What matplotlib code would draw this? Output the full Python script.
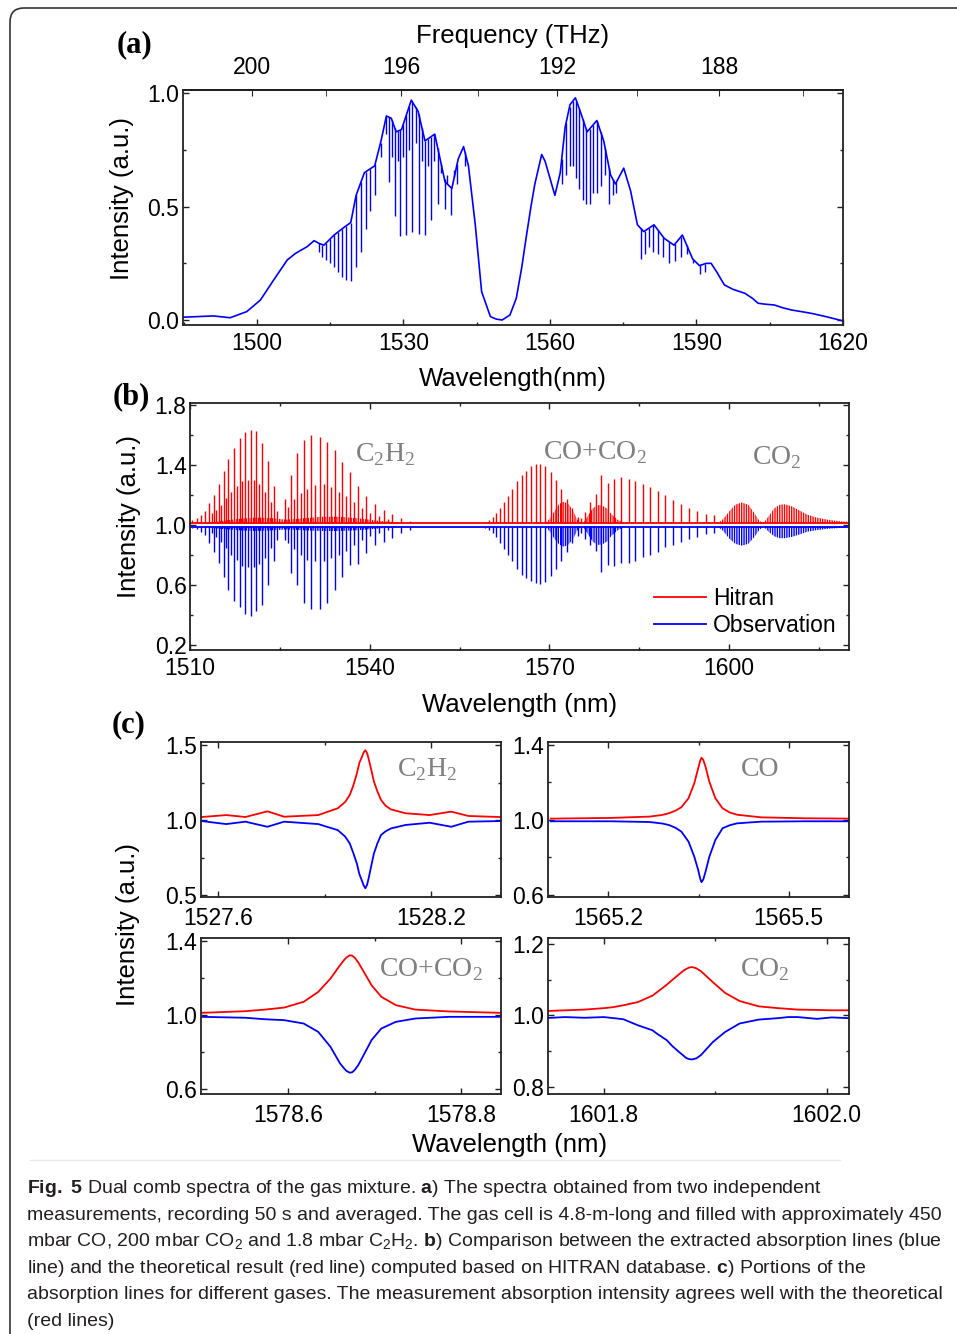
import numpy as np
import matplotlib
matplotlib.use('Agg')
import matplotlib.pyplot as plt
from matplotlib.ticker import FixedLocator, MultipleLocator
from matplotlib.patches import FancyBboxPatch

plt.rcParams['font.family'] = ['Liberation Sans', 'DejaVu Sans']
plt.rcParams['mathtext.fontset'] = 'custom'
plt.rcParams['mathtext.rm'] = 'Liberation Serif'
plt.rcParams['mathtext.sf'] = 'Liberation Sans'
plt.rcParams['mathtext.bf'] = 'Liberation Sans:bold'
plt.rcParams['hatch.linewidth'] = 1.0

# ---------------- (a) spectrum: envelope + absorption dips ----------------
a_wl = [1484.5, 1491.1, 1494.5, 1497.9, 1500.7, 1503.4, 1506.2, 1507.9, 1510.3, 1511.7,
        1512.7, 1513.7, 1515.8, 1517.9, 1519.2, 1520.3, 1522.0, 1524.1, 1525.4, 1526.5,
        1527.5, 1528.5, 1529.6, 1531.6, 1533.0, 1534.4, 1536.4, 1538.5, 1539.9, 1541.2,
        1542.3, 1543.3, 1544.7, 1546.0, 1547.8, 1549.0, 1550.2, 1551.8, 1553.1, 1554.2,
        1555.2, 1556.1, 1556.9, 1558.3, 1559.0, 1560.0, 1561.0, 1562.1, 1563.1, 1564.1,
        1565.2, 1566.2, 1567.6, 1569.6, 1571.0, 1572.4, 1573.4, 1575.1, 1576.5, 1577.9,
        1579.2, 1581.3, 1583.4, 1585.4, 1587.1, 1589.2, 1590.6, 1592.0, 1593.0, 1594.2,
        1595.7, 1597.5, 1599.9, 1601.5, 1602.6, 1604.0, 1606.0, 1607.5, 1609.5, 1611.5,
        1613.6, 1616.5, 1620.0]
a_int = [0.012, 0.018, 0.010, 0.037, 0.088, 0.176, 0.265, 0.294, 0.324, 0.35,
         0.338, 0.33, 0.375, 0.41, 0.43, 0.55, 0.65, 0.68, 0.79, 0.90,
         0.89, 0.83, 0.84, 0.97, 0.92, 0.79, 0.82, 0.61, 0.58, 0.71,
         0.765, 0.68, 0.42, 0.125, 0.015, 0.004, 0.0, 0.022, 0.096, 0.23,
         0.375, 0.50, 0.60, 0.73, 0.70, 0.625, 0.55, 0.65, 0.85, 0.95,
         0.98, 0.92, 0.83, 0.88, 0.79, 0.64, 0.60, 0.67, 0.57, 0.42,
         0.39, 0.42, 0.36, 0.33, 0.375, 0.27, 0.24, 0.25, 0.25, 0.21,
         0.155, 0.135, 0.118, 0.095, 0.074, 0.070, 0.066, 0.055, 0.044, 0.037,
         0.029, 0.015, -0.004]
a_dip_wl = [1512.7, 1513.4, 1514.2, 1514.9, 1515.7, 1516.5, 1517.4, 1518.3, 1519.2, 1520.3,
            1521.3, 1522.3, 1523.2, 1524.2, 1525.3, 1526.5, 1527.1, 1527.6, 1528.2, 1528.8,
            1529.3, 1530.0, 1530.6, 1531.2, 1531.8, 1532.5, 1533.1, 1533.8, 1534.4, 1535.0,
            1535.6, 1536.3, 1537.0, 1537.7, 1538.4, 1539.0, 1539.7, 1540.4, 1541.0, 1542.6,
            1562.4, 1563.3, 1564.0, 1564.7, 1565.4, 1566.0, 1566.7, 1567.4, 1568.1, 1568.8,
            1569.6, 1570.4, 1571.3, 1572.1, 1572.9, 1573.6,
            1578.6, 1579.4, 1580.2, 1581.1, 1582.1, 1583.2, 1584.4, 1585.6, 1586.8, 1588.0,
            1589.3, 1590.7, 1591.8]
a_dip_bottom = [0.30, 0.28, 0.265, 0.25, 0.235, 0.21, 0.19, 0.175, 0.17, 0.235,
                0.30, 0.40, 0.48, 0.55, 0.72, 0.82, 0.61, 0.72, 0.46, 0.70,
                0.37, 0.72, 0.375, 0.75, 0.39, 0.78, 0.38, 0.70, 0.375, 0.68,
                0.44, 0.70, 0.51, 0.65, 0.49, 0.64, 0.465, 0.66, 0.60, 0.68,
                0.60, 0.64, 0.68, 0.68, 0.625, 0.58, 0.53, 0.51, 0.51, 0.56,
                0.56, 0.59, 0.64, 0.51, 0.55, 0.56,
                0.27, 0.29, 0.32, 0.30, 0.29, 0.28, 0.25, 0.26, 0.28, 0.29,
                0.25, 0.205, 0.21]

# ---------------- (b) Hitran (red, up) vs observation (blue, down) ----------------
c2h2_strong_wl = [1510.4, 1511.1, 1511.8, 1512.5, 1513.2, 1514.0, 1514.8, 1515.6, 1516.4, 1517.3,
                  1518.3, 1519.2, 1520.1, 1521.1, 1522.1, 1523.1, 1524.1,
                  1525.8, 1526.9, 1527.9, 1529.1, 1530.2, 1531.7, 1532.9, 1534.2, 1535.4,
                  1536.7, 1538.1, 1539.4, 1540.8, 1542.4, 1543.7, 1545.2, 1546.7]
c2h2_strong_red = [1.033, 1.044, 1.067, 1.096, 1.144, 1.20, 1.273, 1.36, 1.438, 1.516,
                   1.578, 1.618, 1.633, 1.627, 1.549, 1.427, 1.26,
                   1.171, 1.333, 1.478, 1.567, 1.60, 1.584, 1.556, 1.50, 1.42,
                   1.356, 1.26, 1.19, 1.14, 1.10, 1.073, 1.044, 1.029]
c2h2_strong_blue = [0.978, 0.975, 0.956, 0.933, 0.878, 0.818, 0.744, 0.656, 0.567, 0.493,
                    0.451, 0.407, 0.395, 0.43, 0.47, 0.60, 0.76,
                    0.90, 0.68, 0.60, 0.48, 0.44, 0.44, 0.48, 0.567, 0.656,
                    0.733, 0.74, 0.811, 0.867, 0.889, 0.911, 0.944, 0.97]
c2h2_weak_wl = [1513.6, 1514.4, 1515.2, 1516.0, 1516.9, 1517.8, 1518.7, 1519.6, 1520.6, 1521.6,
                1522.6, 1523.6, 1524.6,
                1526.4, 1527.4, 1528.5, 1529.6, 1530.9, 1532.3, 1533.5, 1534.8, 1536.0, 1537.4,
                1538.7, 1540.1, 1541.5, 1543.0]
c2h2_weak_red = [1.08, 1.10, 1.13, 1.18, 1.22, 1.26, 1.29, 1.30, 1.30, 1.27,
                 1.22, 1.15, 1.09,
                 1.12, 1.17, 1.21, 1.24, 1.265, 1.27, 1.25, 1.22, 1.19, 1.15,
                 1.11, 1.08, 1.06, 1.04]
c2h2_weak_blue = [0.95, 0.92, 0.89, 0.85, 0.80, 0.77, 0.73, 0.72, 0.72, 0.74,
                  0.78, 0.85, 0.90,
                  0.88, 0.84, 0.80, 0.77, 0.76, 0.76, 0.78, 0.80, 0.83, 0.87,
                  0.90, 0.93, 0.95, 0.97]
co_wl = [1559.3, 1559.9, 1560.5, 1561.1, 1561.8, 1562.4, 1563.1, 1563.8, 1564.6, 1565.35,
         1566.1, 1566.9, 1567.7, 1568.5, 1569.3, 1570.2, 1571.1, 1572.0, 1572.9, 1573.8, 1574.8,
         1575.3, 1576.0, 1576.8, 1577.7, 1578.67, 1579.7, 1580.8, 1581.9, 1583.2, 1584.3,
         1585.6, 1586.8, 1588.1, 1589.3, 1590.6, 1591.9, 1593.3, 1594.6, 1596.1, 1597.5]
co_red = [1.02, 1.035, 1.055, 1.08, 1.11, 1.15, 1.19, 1.24, 1.29, 1.33,
          1.36, 1.39, 1.405, 1.407, 1.39, 1.35, 1.30, 1.24, 1.17, 1.11, 1.05,
          1.044, 1.089, 1.156, 1.204, 1.333, 1.282, 1.304, 1.322, 1.307, 1.293,
          1.273, 1.251, 1.227, 1.20, 1.167, 1.14, 1.111, 1.096, 1.073, 1.067]
co_blue = [0.98, 0.965, 0.945, 0.92, 0.88, 0.84, 0.80, 0.76, 0.71, 0.67,
           0.65, 0.63, 0.615, 0.61, 0.62, 0.66, 0.71, 0.76, 0.82, 0.88, 0.93,
           0.944, 0.91, 0.87, 0.83, 0.69, 0.733, 0.73, 0.744, 0.75, 0.76,
           0.789, 0.80, 0.82, 0.856, 0.87, 0.89, 0.91, 0.92, 0.94, 0.95]
grass_wl = [1512, 1515, 1518, 1521, 1524, 1526, 1529, 1532, 1535, 1538, 1541, 1544, 1547]
grass_red = [1.01, 1.025, 1.04, 1.05, 1.045, 1.035, 1.045, 1.055, 1.055, 1.045, 1.03, 1.02, 1.01]
grass_blue = [0.99, 0.975, 0.965, 0.96, 0.965, 0.97, 0.965, 0.96, 0.96, 0.965, 0.975, 0.985, 0.99]
co2_bands_wl = [
    [1569.2, 1570.0, 1570.8, 1571.6, 1572.4, 1573.2, 1574.0, 1574.6, 1575.2],
    [1575.6, 1576.4, 1577.2, 1578.0, 1578.8, 1579.6, 1580.4, 1581.4, 1582.6],
    [1598.0, 1599.0, 1600.0, 1601.0, 1602.1, 1603.2, 1604.2, 1605.0, 1605.7],
    [1605.7, 1606.6, 1607.5, 1608.4, 1609.3, 1610.4, 1611.6, 1613.0, 1614.5, 1616.5, 1618.5, 1620.0]]
co2_bands_red = [
    [1.01, 1.04, 1.09, 1.14, 1.155, 1.14, 1.09, 1.04, 1.01],
    [1.01, 1.06, 1.11, 1.133, 1.13, 1.11, 1.07, 1.035, 1.01],
    [1.01, 1.04, 1.09, 1.135, 1.15, 1.135, 1.08, 1.03, 1.01],
    [1.01, 1.06, 1.11, 1.135, 1.138, 1.125, 1.10, 1.07, 1.05, 1.035, 1.025, 1.02]]
co2_bands_blue = [
    [0.99, 0.96, 0.91, 0.87, 0.855, 0.87, 0.91, 0.96, 0.99],
    [0.99, 0.94, 0.89, 0.867, 0.87, 0.89, 0.93, 0.965, 0.99],
    [0.99, 0.96, 0.91, 0.875, 0.862, 0.875, 0.92, 0.965, 0.99],
    [0.99, 0.955, 0.925, 0.912, 0.912, 0.92, 0.935, 0.955, 0.965, 0.975, 0.98, 0.985]]

# ---------------- (c) single lines ----------------
c2h2_x = [1527.554, 1527.623, 1527.677, 1527.739, 1527.786, 1527.882, 1527.937, 1527.958, 1527.971,
          1527.981, 1527.991, 1527.998, 1528.005, 1528.010, 1528.015, 1528.020, 1528.025, 1528.032,
          1528.039, 1528.049, 1528.059, 1528.072, 1528.087, 1528.128, 1528.196, 1528.257, 1528.305,
          1528.394]
c2h2_red = [1.02, 1.033, 1.02, 1.058, 1.022, 1.033, 1.078, 1.12, 1.167,
            1.23, 1.31, 1.38, 1.42, 1.45, 1.465, 1.445, 1.40, 1.33,
            1.257, 1.19, 1.134, 1.095, 1.071, 1.045, 1.033, 1.056, 1.027,
            1.02]
c2h2_blue = [0.993, 0.973, 0.989, 0.955, 0.989, 0.973, 0.933, 0.89, 0.844,
             0.78, 0.71, 0.64, 0.598, 0.565, 0.545, 0.57, 0.62, 0.70,
             0.777, 0.845, 0.90, 0.925, 0.944, 0.967, 0.982, 0.955, 0.989,
             0.993]
co_x = [1565.1045, 1565.205, 1565.269, 1565.290, 1565.301, 1565.312, 1565.3215, 1565.3335, 1565.343,
        1565.3495, 1565.353, 1565.355, 1565.358, 1565.3617, 1565.368, 1565.378, 1565.390, 1565.402,
        1565.414, 1565.454, 1565.5265, 1565.603]
co_line_red = [1.007, 1.011, 1.018, 1.027, 1.036, 1.050, 1.068, 1.116, 1.196,
               1.276, 1.318, 1.332, 1.320, 1.284, 1.204, 1.116, 1.062, 1.040,
               1.028, 1.014, 1.009, 1.007]
co_line_blue = [0.993, 0.993, 0.989, 0.981, 0.973, 0.958, 0.938, 0.884, 0.804,
                0.733, 0.685, 0.668, 0.683, 0.724, 0.804, 0.893, 0.956, 0.972,
                0.982, 0.991, 0.993, 0.993]
mix_x = [1578.5003, 1578.5508, 1578.5732, 1578.5956, 1578.618, 1578.6348, 1578.6489, 1578.66,
         1578.6643, 1578.6673, 1578.6712, 1578.6740, 1578.6769, 1578.6810, 1578.6853, 1578.6965,
         1578.7077, 1578.7245, 1578.747, 1578.7861, 1578.845]
mix_red = [1.0125, 1.0215, 1.03, 1.041, 1.072, 1.125, 1.197, 1.269,
           1.295, 1.31, 1.323, 1.321, 1.31, 1.285, 1.251, 1.161,
           1.099, 1.054, 1.03, 1.02, 1.0125]
mix_blue = [0.991, 0.986, 0.978, 0.973, 0.955, 0.91, 0.83, 0.74,
            0.715, 0.70, 0.69, 0.692, 0.704, 0.73, 0.767, 0.866,
            0.928, 0.964, 0.982, 0.991, 0.991]
co2_x = [1601.7501, 1601.7653, 1601.7827, 1601.8001, 1601.8088, 1601.8175, 1601.8306, 1601.8436,
         1601.8479, 1601.8566, 1601.861, 1601.8675, 1601.8718, 1601.874, 1601.8765, 1601.8792,
         1601.8830, 1601.8871, 1601.8979, 1601.9088, 1601.9219, 1601.9392, 1601.9566, 1601.9653,
         1601.974, 1601.9914, 1602.0044, 1602.0196]
co2_red = [1.012, 1.014, 1.016, 1.020, 1.023, 1.028, 1.037, 1.055,
           1.065, 1.086, 1.098, 1.115, 1.126, 1.130, 1.134, 1.1355,
           1.132, 1.124, 1.093, 1.063, 1.040, 1.025, 1.020, 1.018,
           1.016, 1.015, 1.014, 1.014]
co2_blue = [0.9925, 0.995, 0.993, 0.995, 0.992, 0.989, 0.972, 0.958,
            0.948, 0.93, 0.915, 0.897, 0.886, 0.88, 0.877, 0.876,
            0.879, 0.888, 0.925, 0.953, 0.977, 0.988, 0.992, 0.995,
            0.995, 0.990, 0.994, 0.992]

W, H = 957, 1334
RED = '#ff0000'
BLUE = '#0000ff'
GRAY = '#808080'
fig = plt.figure(figsize=(W / 100, H / 100), dpi=100)

bg = fig.add_axes([0, 0, 1, 1])
bg.set_xlim(0, W)
bg.set_ylim(H, 0)
bg.axis('off')
bg.add_patch(FancyBboxPatch((10, 8), 1200, 1600, boxstyle='round,pad=0,rounding_size=14',
                            fill=False, ec='#333333', lw=1.2))
bg.plot([30, 840], [1160, 1160], color='#e8e8e8', lw=1)


def box(l, t, r, b):
    return fig.add_axes([l / W, 1 - b / H, (r - l) / W, (b - t) / H])


def style(ax, top=True):
    ax.tick_params(which='both', direction='in', top=top, right=True, labelsize=16.5,
                   width=1.0, color='#222222')
    ax.tick_params(which='major', length=4.5)
    ax.tick_params(which='minor', length=2.5)
    for s in ax.spines.values():
        s.set_linewidth(1.3)
        s.set_color('#222222')


# (a)
axa = box(183, 90, 843, 325)
axa.plot(a_wl, a_int, color=BLUE, lw=1.2)
tops = np.interp(a_dip_wl, a_wl, a_int)
axa.vlines(a_dip_wl, a_dip_bottom, tops, color=BLUE, lw=1.0)
axa.set_xlim(1484.85, 1620)
axa.set_ylim(-0.022, 1.0146)
axa.xaxis.set_major_locator(MultipleLocator(30))
axa.xaxis.set_minor_locator(MultipleLocator(15))
axa.yaxis.set_major_locator(MultipleLocator(0.5))
axa.yaxis.set_minor_locator(MultipleLocator(0.25))
style(axa, top=False)
axa.tick_params(axis='x', pad=5)
axa.tick_params(axis='y', pad=3)
axa.yaxis.set_major_formatter(lambda v, p: '%.1f' % v)


def nm2thz(x):
    x = np.asarray(x, float)
    return 299792.458 / np.where(x == 0, 1e-9, x)


sec = axa.secondary_xaxis('top', functions=(nm2thz, nm2thz))
sec.xaxis.set_major_locator(FixedLocator([200, 196, 192, 188]))
sec.xaxis.set_minor_locator(FixedLocator([198, 194, 190, 186]))
sec.tick_params(which='both', direction='in', labelsize=16.5, pad=8, color='#222222')
sec.tick_params(which='major', length=4.5)
sec.tick_params(which='minor', length=4.5)
sec.spines['top'].set_linewidth(1.3)

# (b)
axb = box(190, 403, 849, 650)
axb.plot([1510, 1620], [1.011, 1.011], color=RED, lw=1.3, label='Hitran')
axb.plot([1510, 1620], [0.99, 0.99], color=BLUE, lw=1.3, label='Observation')
axb.fill_between(grass_wl, 1.01, grass_red, facecolor='none', edgecolor=RED, hatch='|||||||', lw=0)
axb.fill_between(grass_wl, grass_blue, 0.99, facecolor='none', edgecolor=BLUE, hatch='|||||||', lw=0)
for bw, br, bb in zip(co2_bands_wl, co2_bands_red, co2_bands_blue):
    axb.fill_between(bw, 1.01, br, facecolor='none', edgecolor=RED, hatch='|||||||', lw=0)
    axb.fill_between(bw, bb, 0.99, facecolor='none', edgecolor=BLUE, hatch='|||||||', lw=0)
for wl, rv, bv in [(c2h2_strong_wl, c2h2_strong_red, c2h2_strong_blue),
                   (c2h2_weak_wl, c2h2_weak_red, c2h2_weak_blue),
                   (co_wl, co_red, co_blue)]:
    axb.vlines(wl, 1.01, rv, color=RED, lw=1.0)
    axb.vlines(wl, bv, 0.99, color=BLUE, lw=1.0)
axb.set_xlim(1510, 1620)
axb.set_ylim(0.167, 1.813)
axb.xaxis.set_major_locator(FixedLocator([1510, 1540, 1570, 1600]))
axb.xaxis.set_minor_locator(FixedLocator([1525, 1555, 1585, 1615]))
axb.yaxis.set_major_locator(FixedLocator([0.2, 0.6, 1.0, 1.4, 1.8]))
axb.yaxis.set_minor_locator(FixedLocator([0.4, 0.8, 1.2, 1.6]))
axb.yaxis.set_major_formatter(lambda v, p: '%.1f' % v)
style(axb)
axb.tick_params(axis='x', pad=5)
axb.tick_params(axis='y', pad=2.5)
axb.legend(loc='lower right', frameon=False, fontsize=16.5, handlelength=2.27,
           handletextpad=0.3, labelspacing=0.2, borderaxespad=0.15)
for tx, ty, s in [(0.25, 0.79, 'C$_2$H$_2$'), (0.536, 0.80, 'CO+CO$_2$'), (0.853, 0.78, 'CO$_2$')]:
    axb.text(tx, ty, s, transform=axb.transAxes, family='Liberation Serif', fontsize=20,
             color=GRAY, ha='left', va='center')

# (c)
panels = [
    ((201, 742, 501, 897), c2h2_x, c2h2_red, c2h2_blue, (1527.552, 1528.397), (0.487, 1.52),
     [1527.6, 1528.2], [1527.9], [0.5, 1.0, 1.5], [0.75, 1.25], 'C$_2$H$_2$', (0.653, 0.82)),
    ((548, 742, 849, 897), co_x, co_line_red, co_line_blue, (1565.1, 1565.6), (0.589, 1.416),
     [1565.2, 1565.5], [1565.35], [0.6, 1.0, 1.4], [0.8, 1.2], 'CO', (0.641, 0.82)),
    ((201, 938, 501, 1094), mix_x, mix_red, mix_blue, (1578.4994, 1578.846), (0.575, 1.416),
     [1578.6, 1578.8], [1578.7], [0.6, 1.0, 1.4], [0.8, 1.2], 'CO+CO$_2$', (0.593, 0.795)),
    ((548, 938, 849, 1094), co2_x, co2_red, co2_blue, (1601.75, 1602.02), (0.779, 1.217),
     [1601.8, 1602.0], [1601.9], [0.8, 1.0, 1.2], [0.9, 1.1], 'CO$_2$', (0.638, 0.795)),
]
for (bx, xs, rs, bs, xl, yl, xmaj, xmin, ymaj, ymin, lab, lpos) in panels:
    ax = box(*bx)
    ax.plot(xs, rs, color=RED, lw=1.3)
    ax.plot(xs, bs, color=BLUE, lw=1.3)
    ax.set_xlim(*xl)
    ax.set_ylim(*yl)
    ax.xaxis.set_major_locator(FixedLocator(xmaj))
    ax.xaxis.set_minor_locator(FixedLocator(xmin))
    ax.yaxis.set_major_locator(FixedLocator(ymaj))
    ax.yaxis.set_minor_locator(FixedLocator(ymin))
    ax.xaxis.set_major_formatter(lambda v, p: '%.1f' % v)
    ax.yaxis.set_major_formatter(lambda v, p: '%.1f' % v)
    style(ax)
    ax.tick_params(axis='x', pad=7)
    ax.tick_params(axis='y', pad=3)
    ax.text(lpos[0], lpos[1], lab, transform=ax.transAxes, family='Liberation Serif',
            fontsize=20, color=GRAY, ha='left', va='center')

# labels
bg.text(513, 36, 'Frequency (THz)', ha='center', va='center', fontsize=18.5)
bg.text(513, 379, 'Wavelength(nm)', ha='center', va='center', fontsize=18.5)
bg.text(122, 198, 'Intensity (a.u.)', ha='center', va='center', fontsize=18.5, rotation=90)
bg.text(520, 705, 'Wavelength (nm)', ha='center', va='center', fontsize=18.5)
bg.text(129, 516, 'Intensity (a.u.)', ha='center', va='center', fontsize=18.5, rotation=90)
bg.text(510, 1145, 'Wavelength (nm)', ha='center', va='center', fontsize=18.5)
bg.text(128, 924, 'Intensity (a.u.)', ha='center', va='center', fontsize=18.5, rotation=90)
for px, py, s in [(134, 45, '(a)'), (131, 397, '(b)'), (129, 725, '(c)')]:
    bg.text(px, py, s, family='Liberation Serif', weight='bold', fontsize=22,
            ha='center', va='center')

caption = [
    r"$\mathbf{Fig.}$ $\mathbf{5}$ Dual comb spectra of the gas mixture. $\mathbf{a}$) The spectra obtained from two independent",
    "measurements, recording 50 s and averaged. The gas cell is 4.8-m-long and filled with approximately 450",
    r"mbar CO, 200 mbar CO$_\mathsf{2}$ and 1.8 mbar C$_\mathsf{2}$H$_\mathsf{2}$. $\mathbf{b}$) Comparison between the extracted absorption lines (blue",
    r"line) and the theoretical result (red line) computed based on HITRAN database. $\mathbf{c}$) Portions of the",
    "absorption lines for different gases. The measurement absorption intensity agrees well with the theoretical",
    "(red lines)",
]
for i, line in enumerate(caption):
    bg.text(27, 1193 + i * 26.6, line, ha='left', va='baseline', fontsize=14, color='#231f20')

fig.savefig('out.png', dpi=100)
